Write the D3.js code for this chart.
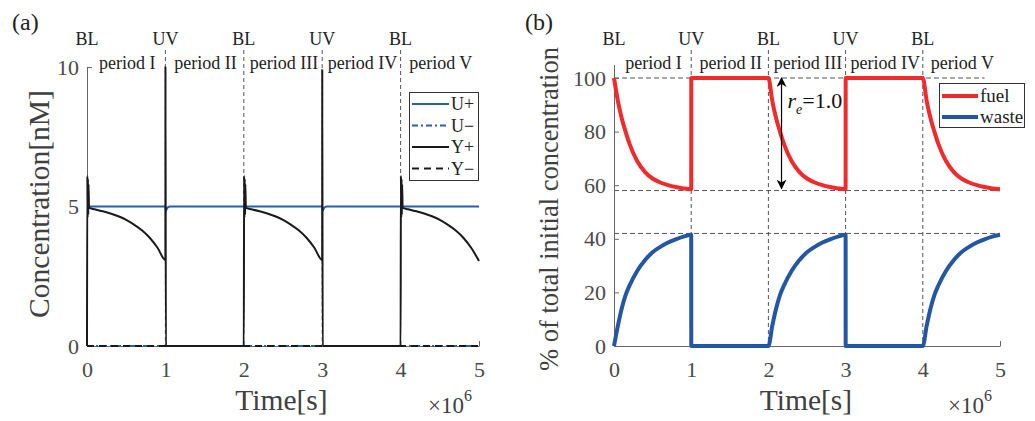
<!DOCTYPE html>
<html lang="en">
<head>
<meta charset="UTF-8">
<title>Concentration panels</title>
<script src="https://d3js.org/d3.v7.min.js"></script>
<style>
  body { margin: 0; background: #fff; }
  svg text { font-family: "Liberation Serif", "Times New Roman", serif; }
</style>
</head>
<body>
<div id="chart"></div>
<script>
// ---- data (time in units of 10^6 s) ----
const switchTimes = [0, 1, 2, 3, 4];
const switchLabels = ["BL", "UV", "BL", "UV", "BL"];
const periodLabels = ["period I", "period II", "period III", "period IV", "period V"];
const dividerTimes = [1, 2, 3, 4];

// panel (a) : concentration [nM]
const uPlus = [[0, 5], [1, 5], [1.005, 4.85], [1.03, 4.97], [1.06, 5], [3, 5], [3.005, 4.85], [3.03, 4.97], [3.06, 5], [5, 5]];
const uMinus = [[0, 0], [5, 0]];
const yMinus = [[0, 0], [5, 0]];
const yPlus = [
  [0, 0], [0.004, 6.1], [0.008, 4.6], [0.012, 6.0], [0.016, 4.7], [0.02, 5.8], [0.026, 4.95],
  [0.1, 4.9], [0.2, 4.83], [0.3, 4.75], [0.4, 4.65], [0.5, 4.52], [0.6, 4.35], [0.7, 4.15], [0.8, 3.88], [0.9, 3.52], [1, 3.08],
  [1.001, 10], [1.006, 0], [2, 0],
  [2.004, 6.1], [2.008, 4.6], [2.012, 6.0], [2.016, 4.7], [2.02, 5.8], [2.026, 4.95],
  [2.1, 4.9], [2.2, 4.83], [2.3, 4.75], [2.4, 4.65], [2.5, 4.52], [2.6, 4.35], [2.7, 4.15], [2.8, 3.88], [2.9, 3.52], [3, 3.08],
  [3.001, 9.9], [3.006, 0], [4, 0],
  [4.004, 6.1], [4.008, 4.6], [4.012, 6.0], [4.016, 4.7], [4.02, 5.8], [4.026, 4.95],
  [4.1, 4.9], [4.2, 4.83], [4.3, 4.75], [4.4, 4.65], [4.5, 4.52], [4.6, 4.35], [4.7, 4.15], [4.8, 3.88], [4.9, 3.52], [5, 3.05]
];

// panel (b) : % of total initial concentration
const fuel = [
  [0, 100], [0.05, 91.5], [0.1, 85], [0.15, 80], [0.2, 75.5], [0.3, 69], [0.4, 65], [0.5, 62.5], [0.6, 61], [0.7, 60], [0.8, 59.3], [0.9, 58.8], [1, 58.5],
  [1.001, 100], [2, 100],
  [2.05, 91.5], [2.1, 85], [2.15, 80], [2.2, 75.5], [2.3, 69], [2.4, 65], [2.5, 62.5], [2.6, 61], [2.7, 60], [2.8, 59.3], [2.9, 58.8], [3, 58.5],
  [3.001, 100], [4, 100],
  [4.05, 91.5], [4.1, 85], [4.15, 80], [4.2, 75.5], [4.3, 69], [4.4, 65], [4.5, 62.5], [4.6, 61], [4.7, 60], [4.8, 59.3], [4.9, 58.8], [5, 58.5]
];
const waste = [
  [0, 0], [0.05, 7.5], [0.1, 14], [0.15, 19], [0.2, 22.5], [0.3, 28], [0.4, 32], [0.5, 35], [0.6, 37], [0.7, 38.6], [0.8, 39.8], [0.9, 40.8], [1, 41.5],
  [1.001, 0], [2, 0],
  [2.05, 7.5], [2.1, 14], [2.15, 19], [2.2, 22.5], [2.3, 28], [2.4, 32], [2.5, 35], [2.6, 37], [2.7, 38.6], [2.8, 39.8], [2.9, 40.8], [3, 41.5],
  [3.001, 0], [4, 0],
  [4.05, 7.5], [4.1, 14], [4.15, 19], [4.2, 22.5], [4.3, 28], [4.4, 32], [4.5, 35], [4.6, 37], [4.7, 38.6], [4.8, 39.8], [4.9, 40.8], [5, 41.5]
];
const refLevels = [100, 58, 42];   // dashed guide lines in (b)
const refEnds = [4.8, 5, 5];
const arrowRange = [100, 58];      // r_e arrow
const arrowTime = 2.17;

const xTicks = [0, 1, 2, 3, 4, 5];
const yTicksA = [0, 5, 10];
const yTicksB = [0, 20, 40, 60, 80, 100];

// ---- setup ----
const svg = d3.select("#chart").append("svg")
  .attr("width", 1035).attr("height", 421);

const red = "#ef2b2b", blueB = "#2356a6", blueA = "#2b5db3", ink = "#1a1a1a";
const axisGray = "#666", tickText = "#4a4a4a";

function axes(x, y, yTicks) {
  const xa = svg.append("g")
    .attr("transform", "translate(0," + y.range()[0] + ")")
    .call(d3.axisBottom(x).tickValues(xTicks).tickSizeInner(-5).tickSizeOuter(0).tickPadding(15).tickFormat(d3.format("d")));
  const ya = svg.append("g")
    .attr("transform", "translate(" + x.range()[0] + ",0)")
    .call(d3.axisLeft(y).tickValues(yTicks).tickSizeInner(-5).tickSizeOuter(0).tickPadding(8));
  [xa, ya].forEach(g => {
    g.select(".domain").attr("stroke", axisGray);
    g.selectAll(".tick line").attr("stroke", axisGray);
    g.selectAll(".tick text").attr("fill", tickText).attr("font-size", 22)
      .attr("font-family", "Liberation Serif, serif");
  });
}

function headers(x, y0) {
  // vertical dashed dividers
  svg.append("g").selectAll("line").data(dividerTimes).join("line")
    .attr("x1", d => x(d)).attr("x2", d => x(d))
    .attr("y1", 50).attr("y2", y0)
    .attr("stroke", "#555").attr("stroke-width", 1).attr("stroke-dasharray", "4,3");
  svg.append("g").selectAll("text").data(switchTimes).join("text")
    .attr("x", d => x(d)).attr("y", 45)
    .attr("text-anchor", "middle").attr("font-size", 18).attr("fill", "#222")
    .text((d, i) => switchLabels[i]);
  svg.append("g").selectAll("text").data(periodLabels).join("text")
    .attr("x", (d, i) => x(i + 0.5) + 1).attr("y", 69)
    .attr("text-anchor", "middle").attr("font-size", 18).attr("fill", "#222")
    .text(d => d);
}

function xLabel(cx, mx) {
  svg.append("text").attr("x", cx).attr("y", 410).attr("text-anchor", "middle")
    .attr("font-size", 29.5).attr("fill", "#404040").text("Time[s]");
  const t = svg.append("text").attr("x", mx).attr("y", 413).attr("font-size", 23).attr("fill", "#404040");
  t.append("tspan").text("\u00d710");
  t.append("tspan").attr("dy", -12).attr("font-size", 16).text("6");
}

// ================= panel (a) =================
const xA = d3.scaleLinear().domain([0, 5]).range([87, 479]);
const yA = d3.scaleLinear().domain([0, 10]).range([346, 67]);

svg.append("text").attr("x", 12).attr("y", 30).attr("font-size", 24).attr("fill", "#222").text("(a)");
headers(xA, 346);
axes(xA, yA, yTicksA);

const lineA = d3.line().x(d => xA(d[0])).y(d => yA(d[1])).curve(d3.curveMonotoneX);
svg.append("path").datum(uPlus).attr("d", lineA).attr("fill", "none").attr("stroke", blueA).attr("stroke-width", 2);
svg.append("path").datum(uMinus).attr("d", lineA).attr("fill", "none").attr("stroke", blueA).attr("stroke-width", 2)
  .attr("stroke-dasharray", "6,3,2,3");
svg.append("path").datum(yPlus).attr("d", lineA).attr("fill", "none").attr("stroke", ink).attr("stroke-width", 2)
  .attr("stroke-linejoin", "round");
svg.append("path").datum(yMinus).attr("d", lineA).attr("fill", "none").attr("stroke", ink).attr("stroke-width", 2)
  .attr("stroke-dasharray", "7,5");

svg.append("text")
  .attr("transform", "translate(49,204) rotate(-90)")
  .attr("text-anchor", "middle").attr("font-size", 29.5).attr("fill", "#404040")
  .text("Concentration[nM]");
xLabel(281.5, 428);

// legend (a)
const legA = [
  { name: "U+", color: blueA, dash: null },
  { name: "U\u2212", color: blueA, dash: "6,3,2,3" },
  { name: "Y+", color: ink, dash: null },
  { name: "Y\u2212", color: ink, dash: "7,5" }
];
svg.append("rect").attr("x", 409.5).attr("y", 92.5).attr("width", 69).attr("height", 88)
  .attr("fill", "#fff").attr("stroke", "#333").attr("stroke-width", 1);
const la = svg.append("g").selectAll("g").data(legA).join("g")
  .attr("transform", (d, i) => "translate(0," + (104 + i * 21.5) + ")");
la.append("line").attr("x1", 412).attr("x2", 449)
  .attr("stroke", d => d.color).attr("stroke-width", 2).attr("stroke-dasharray", d => d.dash);
la.append("text").attr("x", 451).attr("y", 6).attr("font-size", 18).attr("fill", "#222").text(d => d.name);

// ================= panel (b) =================
const xB = d3.scaleLinear().domain([0, 5]).range([614, 1000]);
const yB = d3.scaleLinear().domain([0, 105]).range([346, 64.6]);

svg.append("text").attr("x", 525).attr("y", 30).attr("font-size", 24).attr("fill", "#222").text("(b)");
headers(xB, 346);

svg.append("g").selectAll("line").data(refLevels).join("line")
  .attr("x1", xB(0)).attr("x2", (d, i) => xB(refEnds[i]))
  .attr("y1", d => yB(d)).attr("y2", d => yB(d))
  .attr("stroke", "#555").attr("stroke-width", 1).attr("stroke-dasharray", "5,3");

axes(xB, yB, yTicksB);

const lineB = d3.line().x(d => xB(d[0])).y(d => yB(d[1])).curve(d3.curveMonotoneX);
svg.append("path").datum(fuel).attr("d", lineB).attr("fill", "none").attr("stroke", red).attr("stroke-width", 4);
svg.append("path").datum(waste).attr("d", lineB).attr("fill", "none").attr("stroke", blueB).attr("stroke-width", 4);

// r_e arrow
const defs = svg.append("defs");
defs.append("marker").attr("id", "ah").attr("viewBox", "0 0 10 10").attr("refX", 9).attr("refY", 5)
  .attr("markerWidth", 10).attr("markerHeight", 10).attr("markerUnits", "userSpaceOnUse").attr("orient", "auto-start-reverse")
  .append("path").attr("d", "M0,0 L10,5 L0,10 L3,5 Z").attr("fill", "#000");
svg.append("line")
  .attr("x1", xB(arrowTime)).attr("x2", xB(arrowTime))
  .attr("y1", yB(arrowRange[0])).attr("y2", yB(arrowRange[1]) - 2)
  .attr("stroke", "#000").attr("stroke-width", 1.2)
  .attr("marker-start", "url(#ah)").attr("marker-end", "url(#ah)");
const re = svg.append("text").attr("x", xB(arrowTime) + 6).attr("y", 108).attr("font-size", 22).attr("fill", "#111");
re.append("tspan").attr("font-style", "italic").text("r");
re.append("tspan").attr("font-style", "italic").attr("font-size", 14).attr("dy", 6).text("e");
re.append("tspan").attr("dy", -6).text("=1.0");

svg.append("text")
  .attr("transform", "translate(558,209) rotate(-90)")
  .attr("text-anchor", "middle").attr("font-size", 26.5).attr("fill", "#404040")
  .text("% of total initial concentration");
xLabel(806, 948);

// legend (b)
const legB = [{ name: "fuel", color: red }, { name: "waste", color: blueB }];
svg.append("rect").attr("x", 939.5).attr("y", 83.5).attr("width", 85).attr("height", 44)
  .attr("fill", "#fff").attr("stroke", "#333").attr("stroke-width", 1);
const lb = svg.append("g").selectAll("g").data(legB).join("g")
  .attr("transform", (d, i) => "translate(0," + (96 + i * 21) + ")");
lb.append("line").attr("x1", 942).attr("x2", 978).attr("stroke", d => d.color).attr("stroke-width", 4);
lb.append("text").attr("x", 980).attr("y", 6).attr("font-size", 19).attr("fill", "#222").text(d => d.name);
</script>
</body>
</html>
